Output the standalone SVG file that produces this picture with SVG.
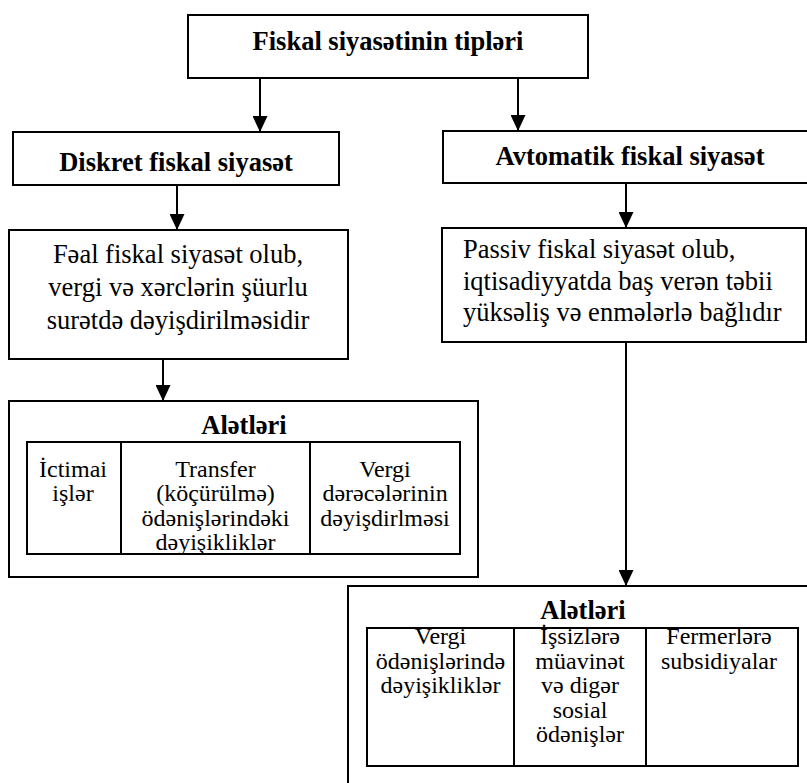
<svg xmlns="http://www.w3.org/2000/svg" width="807" height="783" viewBox="0 0 807 783">
<style>
text{font-family:'Liberation Serif','Times New Roman','DejaVu Serif',serif;fill:#000}
.box{fill:#fff;stroke:#000;stroke-width:2}
.cell{fill:none;stroke:#000;stroke-width:2}
.h{font-weight:bold;font-size:26.5px;text-anchor:middle}
.t{font-size:26.5px}
.c{font-size:24px;text-anchor:middle}
.con{stroke:#000;stroke-width:2;fill:none}
</style>
<defs>
<marker id="arr" viewBox="0 0 16 15" refX="16" refY="7.5" markerWidth="16" markerHeight="15" orient="auto" markerUnits="userSpaceOnUse">
<path d="M0,0 L16,7.5 L0,15 z" fill="#000"/>
</marker>
</defs>
<rect width="807" height="783" fill="#fff"/>
<g id="connectors">
<line class="con" x1="260" y1="78" x2="260" y2="132" marker-end="url(#arr)"/>
<line class="con" x1="518" y1="78" x2="518" y2="131" marker-end="url(#arr)"/>
<line class="con" x1="177" y1="185" x2="177" y2="230" marker-end="url(#arr)"/>
<line class="con" x1="626" y1="183" x2="626" y2="228" marker-end="url(#arr)"/>
<line class="con" x1="163" y1="359" x2="163" y2="401" marker-end="url(#arr)"/>
<line class="con" x1="626" y1="342" x2="626" y2="586" marker-end="url(#arr)"/>
</g>
<g id="root">
<rect class="box" x="188" y="15" width="400" height="63"/>
<text class="h" x="388" y="50">Fiskal siyasətinin tipləri</text>
</g>
<g id="diskret">
<rect class="box" x="13" y="132" width="326" height="53"/>
<text class="h" x="176" y="171">Diskret fiskal siyasət</text>
</g>
<g id="avtomatik">
<rect class="box" x="443" y="131" width="380" height="52"/>
<text class="h" x="630" y="165">Avtomatik fiskal siyasət</text>
</g>
<g id="feal">
<rect class="box" x="9" y="230" width="339" height="129"/>
<text class="t" text-anchor="middle" x="178" y="263">Fəal fiskal siyasət olub,</text>
<text class="t" text-anchor="middle" x="178" y="296">vergi və xərclərin şüurlu</text>
<text class="t" text-anchor="middle" x="178" y="329">surətdə dəyişdirilməsidir</text>
</g>
<g id="passiv">
<rect class="box" x="442" y="228" width="364" height="114"/>
<text class="t" x="463" y="258">Passiv fiskal siyasət olub,</text>
<text class="t" x="463" y="289.5">iqtisadiyyatda baş verən təbii</text>
<text class="t" x="463" y="321">yüksəliş və enmələrlə bağlıdır</text>
</g>
<g id="aletleri-left">
<rect class="box" x="9" y="401" width="469" height="176"/>
<text class="h" x="244" y="434">Alətləri</text>
<rect class="cell" x="27" y="442" width="433" height="112"/>
<line class="cell" x1="121" y1="442" x2="121" y2="554"/>
<line class="cell" x1="310" y1="442" x2="310" y2="554"/>
<text class="c" x="73" y="477">İctimai</text>
<text class="c" x="73" y="501">işlər</text>
<text class="c" x="215.5" y="477">Transfer</text>
<text class="c" x="215.5" y="501">(köçürülmə)</text>
<text class="c" x="215.5" y="525.5">ödənişlərindəki</text>
<text class="c" x="215.5" y="550">dəyişikliklər</text>
<text class="c" x="385" y="477">Vergi</text>
<text class="c" x="385" y="501">dərəcələrinin</text>
<text class="c" x="385" y="525.5">dəyişdirlməsi</text>
</g>
<g id="aletleri-right">
<rect class="box" x="348" y="586" width="480" height="220"/>
<text class="h" x="583" y="619">Alətləri</text>
<rect class="cell" x="367" y="628" width="431" height="138"/>
<line class="cell" x1="514" y1="628" x2="514" y2="766"/>
<line class="cell" x1="646" y1="628" x2="646" y2="766"/>
<text class="c" x="440.5" y="644">Vergi</text>
<text class="c" x="440.5" y="668.5">ödənişlərində</text>
<text class="c" x="440.5" y="693">dəyişikliklər</text>
<text class="c" x="580" y="644">İşsizlərə</text>
<text class="c" x="580" y="668.5">müavinət</text>
<text class="c" x="580" y="693">və digər</text>
<text class="c" x="580" y="717.5">sosial</text>
<text class="c" x="580" y="742">ödənişlər</text>
<text class="c" x="719" y="644">Fermerlərə</text>
<text class="c" x="719" y="668.5">subsidiyalar</text>
</g>
</svg>
